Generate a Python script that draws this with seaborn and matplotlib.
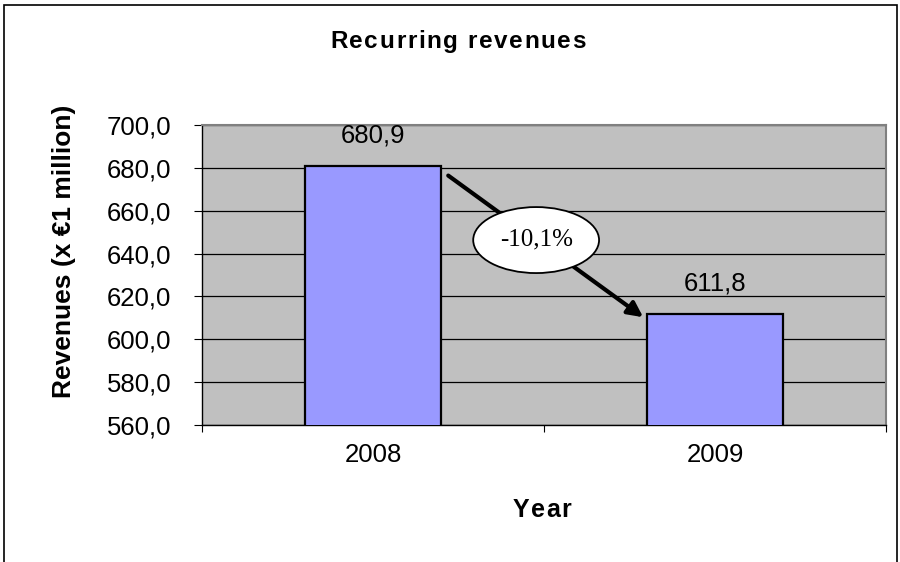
import matplotlib
matplotlib.use("Agg")
import matplotlib.pyplot as plt
from matplotlib.patches import Ellipse, Rectangle
from matplotlib.font_manager import FontProperties
import seaborn as sns
import pandas as pd

years = ["2008", "2009"]
revenues = [680.9, 611.8]
change_label = "-10,1%"
y_ticks = [560, 580, 600, 620, 640, 660, 680, 700]

sns.set_style("white")
plt.rcParams["font.family"] = ["Liberation Sans", "DejaVu Sans"]
for key in ["text.color", "axes.labelcolor", "xtick.color", "ytick.color"]:
    plt.rcParams[key] = "black"

W, H = 900, 562


def fmt(v):
    return f"{v:.1f}".replace(".", ",")


def spaced_text(fig, cx, baseline, s, spacing, **kw):
    """Draw text centred at pixel cx with extra letter spacing (pixels)."""
    renderer = fig.canvas.get_renderer()
    fp = FontProperties(family=kw.get("family", plt.rcParams["font.family"]),
                        size=kw.get("fontsize", 12), weight=kw.get("fontweight", "normal"))
    widths = [renderer.get_text_width_height_descent(ch, fp, ismath=False)[0] for ch in s]
    total = sum(widths) + spacing * (len(s) - 1)
    x = cx - total / 2
    for ch, w in zip(s, widths):
        fig.text(x / W, 1 - baseline / H, ch, ha="left", va="baseline", fontproperties=fp)
        x += w + spacing


df = pd.DataFrame({"Year": years, "Revenue": revenues})

fig = plt.figure(figsize=(9, 5.62), dpi=100)
ax = fig.add_axes([202 / W, 1 - 425 / H, 684 / W, 300 / H])
ax.set_facecolor("#C0C0C0")

sns.barplot(data=df, x="Year", y="Revenue", color="#9999FF", width=0.4,
            edgecolor="black", linewidth=1.6, saturation=1, ax=ax, zorder=3)

ax.set_ylim(560, 700)
ax.set_xlim(-0.5, 1.5)
ax.set_yticks(y_ticks)
ax.set_yticklabels([fmt(v) for v in y_ticks], fontsize=18.5)
ax.yaxis.grid(True, color="black", linewidth=0.9, zorder=1)
ax.set_axisbelow(True)

# category labels without ticks; tick marks sit at the category boundaries
ax.set_xticks(range(len(years)))
ax.set_xticklabels(years, fontsize=18.5)
ax.tick_params(axis="x", which="major", bottom=True, length=0, pad=13)
ax.set_xticks([-0.5, 0.5, 1.5], minor=True)
ax.tick_params(axis="x", which="minor", bottom=True, length=5, width=0.8, direction="out")
ax.tick_params(axis="y", left=True, length=6, width=0.8, direction="out", pad=16)

for side in ["top", "right"]:
    ax.spines[side].set_visible(True)
    ax.spines[side].set_color("#808080")
    ax.spines[side].set_linewidth(1.5)
for side in ["left", "bottom"]:
    ax.spines[side].set_color("black")
    ax.spines[side].set_linewidth(1.0)

ax.set_xlabel("")
ax.set_ylabel("Revenues (x €1 million)", fontsize=19, fontweight="bold")
ax.yaxis.set_label_coords((76 - 202) / 684, (425 - 251) / 300)

# value labels above the bars
for i, v in enumerate(revenues):
    ax.text(i, v + 8.8, fmt(v), ha="center", va="bottom", fontsize=18.5, zorder=5)

# change arrow between the bars
ax.annotate("", xy=(0.79, revenues[1] - 1.5), xytext=(0.22, revenues[0] - 4.5),
            arrowprops=dict(arrowstyle="-|>,head_length=0.9,head_width=0.45",
                            color="black", lw=3, shrinkA=0, shrinkB=0),
            zorder=6)
ell = Ellipse((0.477, 646.3), width=0.368, height=30.8, facecolor="white",
              edgecolor="black", linewidth=1.3, zorder=7)
ax.add_patch(ell)
ax.text(0.477, 646.8, change_label, ha="center", va="center", fontsize=18,
        family=["Liberation Serif", "DejaVu Serif"], zorder=8)

# title and x-axis title with widened letter spacing
spaced_text(fig, 458, 48, "Recurring revenues", 1.6, fontsize=17.5, fontweight="bold")
spaced_text(fig, 542, 517, "Year", 1.5, fontsize=18, fontweight="bold")

# outer chart frame
fig.patches.append(Rectangle((4 / W, -0.05), 893 / W, 1 - 5 / H + 0.05,
                             transform=fig.transFigure, fill=False,
                             edgecolor="black", linewidth=1.2))

fig.savefig("out.png", dpi=100, facecolor="white")
